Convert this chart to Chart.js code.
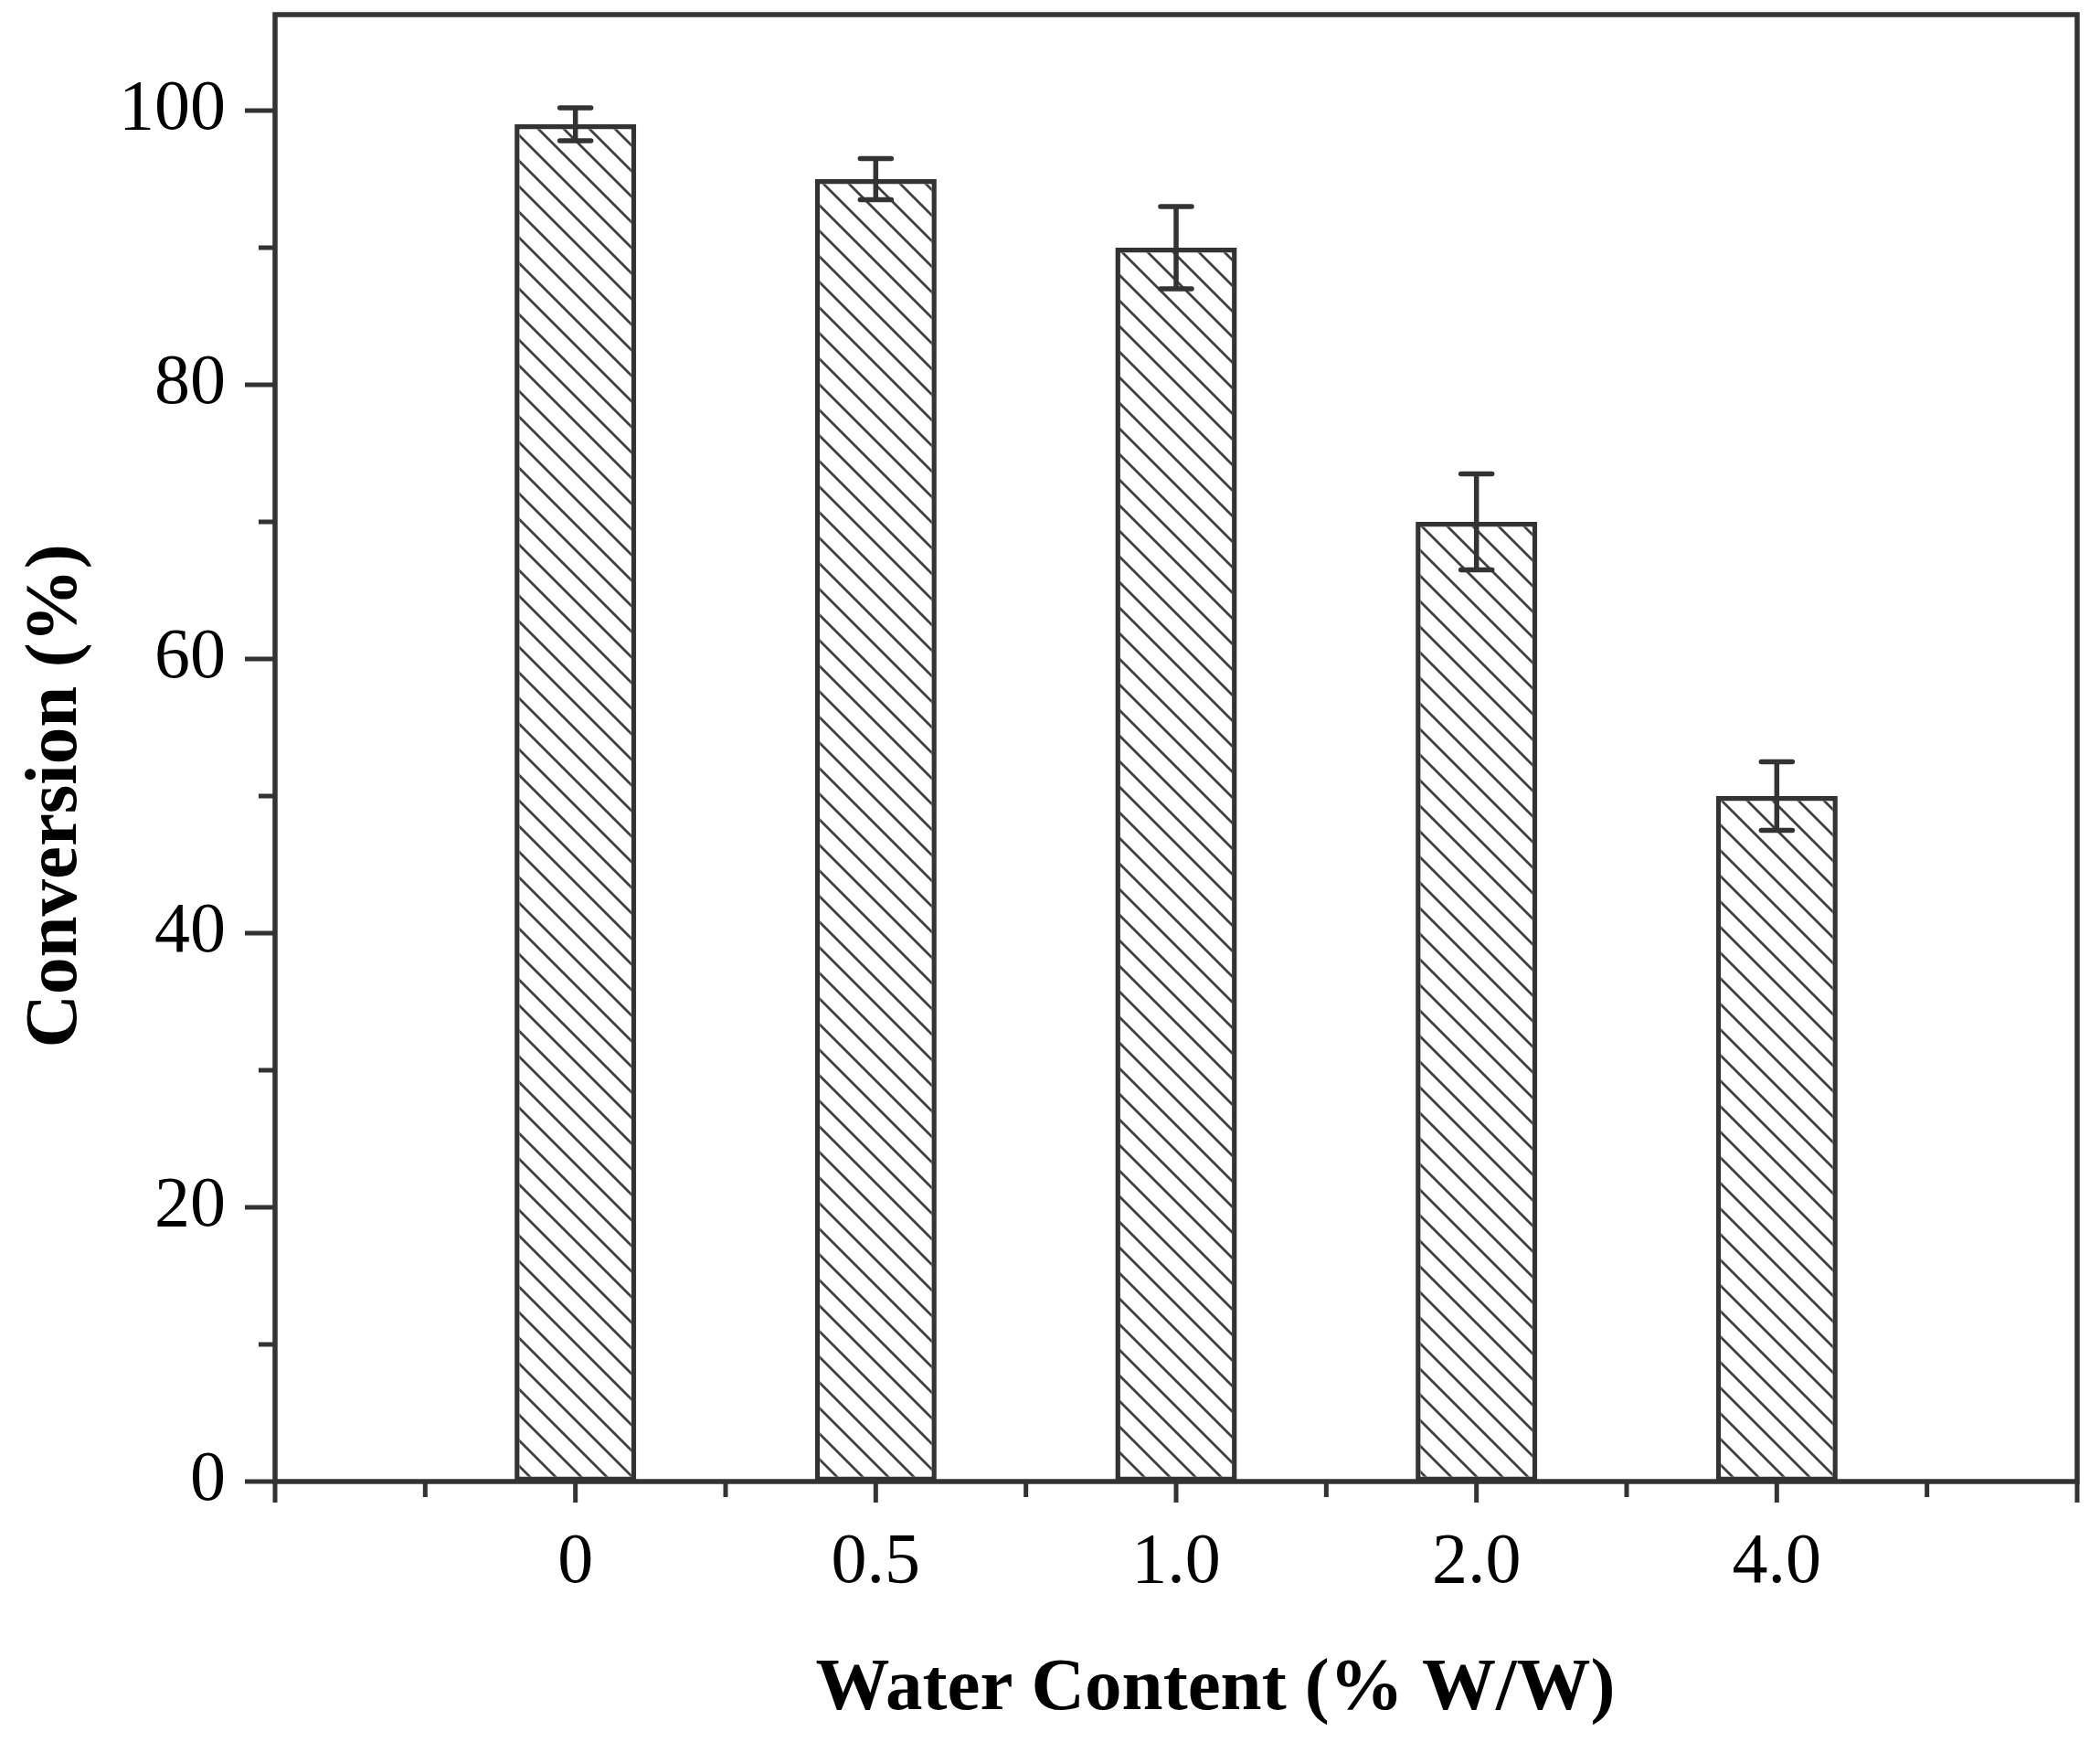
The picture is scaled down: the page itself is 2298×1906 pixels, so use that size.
<!DOCTYPE html>
<html><head><meta charset="utf-8">
<script src="https://cdn.jsdelivr.net/npm/chart.js@4"></script>
<style>html,body{margin:0;padding:0;background:#fff}#wrap{width:2298px;height:1906px}</style>
</head><body><div id="wrap"><canvas id="c" width="2298" height="1906"></canvas></div>
<script>
const categories = ['0', '0.5', '1.0', '2.0', '4.0'];
const positions = [1, 2, 3, 4, 5];
const conversion = [99, 95, 90, 70, 50];
const errors = [1.2, 1.5, 3.0, 3.5, 2.5];
const yTicks = [0, 20, 40, 60, 80, 100];
const yMinorTicks = [10, 30, 50, 70, 90];
const xMajorTicks = [0, 1, 2, 3, 4, 5, 6];
const xMinorTicks = [0.5, 1.5, 2.5, 3.5, 4.5, 5.5];
const xTitle = 'Water Content (% W/W)';
const yTitle = 'Conversion (%)';

const INK = '#333333';
const FONT = '"Liberation Serif", "Times New Roman", serif';

function makeHatch() {
  const s = 28;
  const c = document.createElement('canvas');
  c.width = s; c.height = s;
  const g = c.getContext('2d');
  g.fillStyle = '#ffffff';
  g.fillRect(0, 0, s, s);
  g.strokeStyle = '#3f3f3f';
  g.lineWidth = 2.8;
  g.beginPath();
  for (const k of [-1, 0, 1]) {
    g.moveTo(-2, -2 + k * s);
    g.lineTo(s + 2, s + 2 + k * s);
  }
  g.stroke();
  return g.createPattern(c, 'repeat');
}

const decor = {
  id: 'decor',
  afterDatasetsDraw(chart) {
    const { ctx, chartArea: a, scales: { x, y } } = chart;
    ctx.save();
    // error bars
    ctx.strokeStyle = INK;
    ctx.lineWidth = 5.5;
    ctx.lineCap = 'round';
    positions.forEach((p, i) => {
      const px = x.getPixelForValue(p);
      const hi = y.getPixelForValue(conversion[i] + errors[i]);
      const lo = y.getPixelForValue(conversion[i] - errors[i]);
      ctx.beginPath();
      ctx.moveTo(px, hi); ctx.lineTo(px, lo);
      ctx.moveTo(px - 17, hi); ctx.lineTo(px + 17, hi);
      ctx.moveTo(px - 17, lo); ctx.lineTo(px + 17, lo);
      ctx.stroke();
    });
    // frame
    ctx.lineCap = 'butt';
    ctx.lineWidth = 5.5;
    ctx.strokeRect(a.left, a.top, a.right - a.left, a.bottom - a.top);
    // ticks
    ctx.lineWidth = 5;
    ctx.beginPath();
    yTicks.forEach(v => { const py = y.getPixelForValue(v); ctx.moveTo(a.left - 33, py); ctx.lineTo(a.left, py); });
    yMinorTicks.forEach(v => { const py = y.getPixelForValue(v); ctx.moveTo(a.left - 18, py); ctx.lineTo(a.left, py); });
    xMajorTicks.forEach(v => { const px = x.getPixelForValue(v); ctx.moveTo(px, a.bottom); ctx.lineTo(px, a.bottom + 23); });
    xMinorTicks.forEach(v => { const px = x.getPixelForValue(v); ctx.moveTo(px, a.bottom); ctx.lineTo(px, a.bottom + 17); });
    ctx.stroke();
    // axis titles
    ctx.fillStyle = '#000';
    ctx.font = 'bold 81px ' + FONT;
    ctx.textAlign = 'center';
    ctx.textBaseline = 'alphabetic';
    ctx.fillText(xTitle, (a.left + a.right) / 2 + 43, 1870);
    ctx.translate(83, (y.getPixelForValue(0) + y.getPixelForValue(100)) / 2);
    ctx.rotate(-Math.PI / 2);
    ctx.fillText(yTitle, 0, 0);
    ctx.restore();
  }
};

new Chart(document.getElementById('c'), {
  type: 'bar',
  data: {
    datasets: [{
      data: positions.map((p, i) => ({ x: p, y: conversion[i] })),
      backgroundColor: makeHatch(),
      borderColor: INK,
      borderWidth: 5.5,
      borderSkipped: false,
      barPercentage: 0.405,
      categoryPercentage: 1.0
    }]
  },
  options: {
    responsive: false,
    devicePixelRatio: 1,
    animation: false,
    layout: { padding: { top: 16, right: 25, bottom: 0, left: 0 } },
    plugins: { legend: { display: false }, tooltip: { enabled: false } },
    scales: {
      x: {
        type: 'linear',
        min: 0, max: 6,
        offset: false,
        grid: { display: false, drawTicks: true, tickLength: 23 },
        border: { display: false },
        ticks: {
          padding: 20, autoSkip: false, maxRotation: 0, color: '#000',
          font: { family: FONT, size: 78 },
          callback: (v, i) => categories[i]
        },
        afterBuildTicks: s => { s.ticks = positions.map(v => ({ value: v })); },
        afterFit: s => { s.height = 285; s.paddingLeft = 0; s.paddingRight = 0; }
      },
      y: {
        min: 0, max: 107,
        grid: { display: false, drawTicks: true, tickLength: 33 },
        border: { display: false },
        ticks: { padding: 21, color: '#000', font: { family: FONT, size: 78 } },
        afterBuildTicks: s => { s.ticks = yTicks.map(v => ({ value: v })); },
        afterFit: s => { s.width = 301; s.paddingTop = 0; s.paddingBottom = 0; }
      }
    }
  },
  plugins: [decor]
});
</script>
</body></html>
